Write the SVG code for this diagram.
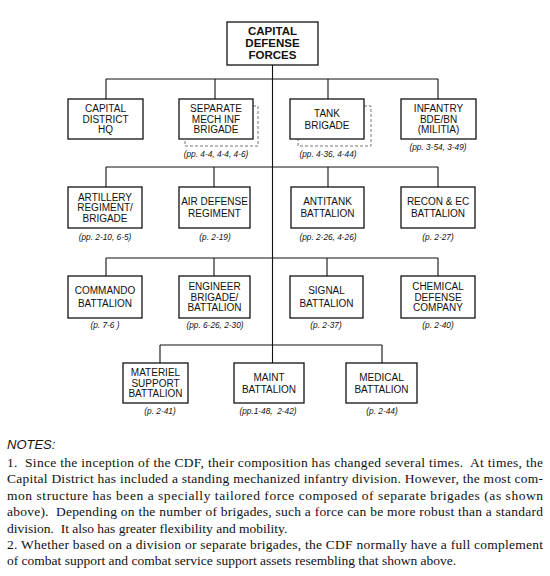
<svg xmlns="http://www.w3.org/2000/svg" width="550" height="576" viewBox="0 0 550 576">
<style>
.box{fill:#fff;stroke:#111;stroke-width:1.3}
.ln{fill:none;stroke:#111;stroke-width:1.1}
.dash{fill:none;stroke:#777;stroke-width:1;stroke-dasharray:3 2}
.t{font-family:"Liberation Sans",Arial,sans-serif;font-size:10px;fill:#111;text-anchor:middle}
.tb{font-family:"Liberation Sans",Arial,sans-serif;font-size:11.5px;font-weight:bold;fill:#111;text-anchor:middle}
.p{font-family:"Liberation Sans",Arial,sans-serif;font-size:8.3px;font-style:italic;fill:#111;text-anchor:middle}
.nh{font-family:"Liberation Sans",Arial,sans-serif;font-size:13px;font-style:italic;fill:#111}
.n{font-family:"Liberation Serif","Times New Roman",serif;font-size:13.5px;fill:#111}
</style>
<rect width="550" height="576" fill="#fff"/>
<g id="connectors">
<path class="ln" d="M272.5 65V363"/>
<path class="ln" d="M106 79H438M106 79V99M215 79V99M328 79V99M438 79V99"/>
<path class="ln" d="M106 167H438M106 167V187M214 167V187M328 167V187M438 167V187"/>
<path class="ln" d="M106 258H438M106 258V276M214 258V276M327 258V276M438 258V276"/>
<path class="ln" d="M160 345H382M160 345V363M382 345V363"/>
</g>
<g id="cdf"><rect class="box" x="227" y="22" width="91" height="43"/>
<text class="tb" x="272.5" y="34.5">CAPITAL</text><text class="tb" x="272.5" y="46.5">DEFENSE</text><text class="tb" x="272.5" y="58.5">FORCES</text></g>
<g id="capital-district"><rect class="box" x="68" y="99" width="75" height="40"/>
<text class="t" x="105.5" y="112">CAPITAL</text><text class="t" x="105.5" y="122.5">DISTRICT</text><text class="t" x="105.5" y="133">HQ</text></g>
<g id="sep-mech"><path class="dash" d="M253 106H258V146H185V139"/><rect class="box" x="179" y="99" width="74" height="40"/>
<text class="t" x="216" y="112">SEPARATE</text><text class="t" x="216" y="122.5">MECH INF</text><text class="t" x="216" y="133">BRIGADE</text>
<text class="p" x="216" y="157">(pp. 4-4, 4-4, 4-6)</text></g>
<g id="tank"><path class="dash" d="M364 106H371V146H298V139"/><rect class="box" x="290" y="99" width="74" height="40"/>
<text class="t" x="327" y="116.5">TANK</text><text class="t" x="327" y="129">BRIGADE</text>
<text class="p" x="328" y="157">(pp. 4-36, 4-44)</text></g>
<g id="infantry"><rect class="box" x="401" y="99" width="75" height="40"/>
<text class="t" x="438.5" y="112">INFANTRY</text><text class="t" x="438.5" y="122.5">BDE/BN</text><text class="t" x="438.5" y="133">(MILITIA)</text>
<text class="p" x="438" y="150">(pp. 3-54, 3-49)</text></g>
<g id="artillery"><rect class="box" x="68" y="187" width="74" height="41"/>
<text class="t" x="105" y="200.5">ARTILLERY</text><text class="t" x="105" y="211">REGIMENT/</text><text class="t" x="105" y="221.5">BRIGADE</text>
<text class="p" x="105" y="240">(pp. 2-10, 6-5)</text></g>
<g id="air-defense"><rect class="box" x="179" y="187" width="71" height="41"/>
<text class="t" x="214.5" y="204.5">AIR DEFENSE</text><text class="t" x="214.5" y="217">REGIMENT</text>
<text class="p" x="215" y="240">(p. 2-19)</text></g>
<g id="antitank"><rect class="box" x="291" y="187" width="73" height="41"/>
<text class="t" x="327.5" y="204.5">ANTITANK</text><text class="t" x="327.5" y="217">BATTALION</text>
<text class="p" x="328" y="240">(pp. 2-26, 4-26)</text></g>
<g id="recon"><rect class="box" x="401" y="187" width="74" height="41"/>
<text class="t" x="438" y="204.5">RECON &amp; EC</text><text class="t" x="438" y="217">BATTALION</text>
<text class="p" x="438" y="240">(p. 2-27)</text></g>
<g id="commando"><rect class="box" x="68" y="276" width="74" height="42"/>
<text class="t" x="105" y="294">COMMANDO</text><text class="t" x="105" y="306.5">BATTALION</text>
<text class="p" x="105" y="328">(p. 7-6 )</text></g>
<g id="engineer"><rect class="box" x="179" y="276" width="71" height="42"/>
<text class="t" x="214.5" y="290">ENGINEER</text><text class="t" x="214.5" y="300.5">BRIGADE/</text><text class="t" x="214.5" y="311">BATTALION</text>
<text class="p" x="215" y="328">(pp. 6-26, 2-30)</text></g>
<g id="signal"><rect class="box" x="290" y="276" width="73" height="42"/>
<text class="t" x="326.5" y="294">SIGNAL</text><text class="t" x="326.5" y="306.5">BATTALION</text>
<text class="p" x="326" y="328">(p. 2-37)</text></g>
<g id="chemical"><rect class="box" x="401" y="276" width="74" height="42"/>
<text class="t" x="438" y="290">CHEMICAL</text><text class="t" x="438" y="300.5">DEFENSE</text><text class="t" x="438" y="311">COMPANY</text>
<text class="p" x="438" y="328">(p. 2-40)</text></g>
<g id="materiel"><rect class="box" x="123" y="363" width="65" height="40"/>
<text class="t" x="155.5" y="376">MATERIEL</text><text class="t" x="155.5" y="386.5">SUPPORT</text><text class="t" x="155.5" y="397">BATTALION</text>
<text class="p" x="160" y="414">(p. 2-41)</text></g>
<g id="maint"><rect class="box" x="234" y="363" width="70" height="40"/>
<text class="t" x="269" y="380.5">MAINT</text><text class="t" x="269" y="393">BATTALION</text>
<text class="p" x="268" y="414" xml:space="preserve">(pp.1-48,  2-42)</text></g>
<g id="medical"><rect class="box" x="346" y="363" width="71" height="40"/>
<text class="t" x="381.5" y="380.5">MEDICAL</text><text class="t" x="381.5" y="393">BATTALION</text>
<text class="p" x="382" y="414">(p. 2-44)</text></g>
<g id="notes">
<text class="nh" x="7" y="449">NOTES:</text>
<text class="n" x="7" y="467" textLength="536" lengthAdjust="spacing" xml:space="preserve">1.  Since the inception of the CDF, their composition has changed several times.  At times, the</text>
<text class="n" x="7" y="483.4" textLength="536" lengthAdjust="spacing">Capital District has included a standing mechanized infantry division.  However, the most com-</text>
<text class="n" x="7" y="499.8" textLength="536" lengthAdjust="spacing">mon structure has been a specially tailored force composed of separate brigades (as shown</text>
<text class="n" x="7" y="516.2" textLength="536" lengthAdjust="spacing" xml:space="preserve">above).  Depending on the number of brigades, such a force can be more robust than a standard</text>
<text class="n" x="7" y="532.6" xml:space="preserve">division.  It also has greater flexibility and mobility.</text>
<text class="n" x="7" y="549" textLength="536" lengthAdjust="spacing">2.  Whether based on a division or separate brigades, the CDF normally have a full complement</text>
<text class="n" x="7" y="565.4">of combat support and combat service support assets resembling that shown above.</text>
</g>
</svg>
